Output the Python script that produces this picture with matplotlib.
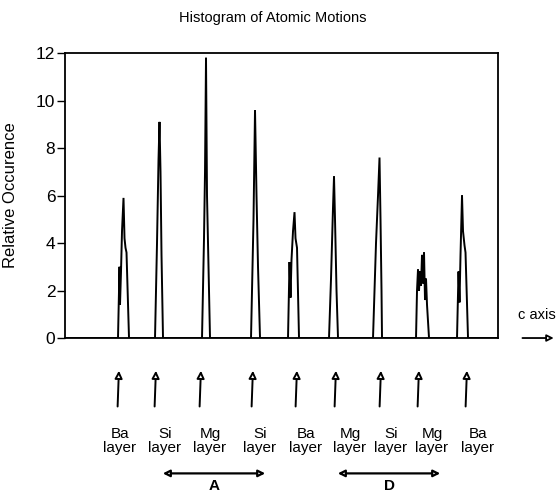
import matplotlib
matplotlib.use("Agg")
import matplotlib.pyplot as plt

plt.rcParams['font.family'] = ['Liberation Sans', 'DejaVu Sans']

# ---- data (c-axis position in arbitrary units, relative occurrence) ----
trace_x = [0, 53, 54.5, 55, 56, 57, 58.5, 59.5, 60.5, 61.5, 64,
           90, 92, 93.5, 94.5, 95.5, 96.5, 98,
           137, 139, 140, 141, 142, 143.5, 145,
           186, 188.5, 190, 191.5, 193, 195,
           223, 224.5, 225.5, 226.5, 228, 229.5, 230.5, 232, 234,
           264, 266, 268, 269, 270, 271.5, 273,
           308, 311, 313, 314.5, 315.5, 316.5, 317,
           351, 352, 353, 354, 355, 356, 357, 358, 359, 360, 361, 362, 364,
           392, 393.5, 394.5, 395.5, 397, 398, 399.5, 400.5, 403, 433]
trace_y = [0, 0, 3.0, 1.4, 2.8, 4.5, 5.9, 4.2, 3.8, 3.6, 0,
           0, 4.0, 7.5, 9.1, 7.0, 3.5, 0,
           0, 4.2, 7.0, 11.8, 6.0, 3.0, 0,
           0, 5.0, 9.6, 6.0, 3.0, 0,
           0, 3.2, 1.7, 3.3, 4.5, 5.3, 4.2, 3.8, 0,
           0, 2.5, 5.5, 6.8, 5.0, 2.0, 0,
           0, 4.0, 6.0, 7.6, 5.0, 2.0, 0,
           0, 2.0, 2.9, 2.0, 2.8, 2.2, 3.5, 2.3, 3.6, 1.6, 2.5, 1.4, 0,
           0, 2.8, 1.5, 3.5, 6.0, 4.5, 3.9, 3.6, 0, 0]

layer_names = ["Ba", "Si", "Mg", "Si", "Ba", "Mg", "Si", "Mg", "Ba"]
layer_arrow_x = [54, 91, 136, 188, 232, 271, 316, 354, 402]
layer_label_x = [55, 100, 145, 195, 241, 285, 326, 367, 413]
yticks = [0, 2, 4, 6, 8, 10, 12]
span_labels = ["A", "D"]
span_start = [95, 270]
span_end = [203, 378]

fig = plt.figure(figsize=(5.58, 4.96), dpi=100)
ax = fig.add_axes([0.1165, 0.3185, 0.776, 0.5746])

ax.plot(trace_x, trace_y, color='black', lw=1.4, solid_joinstyle='miter')
ax.set_xlim(0, 433)
ax.set_ylim(0, 12)
ax.set_yticks(yticks)
ax.set_yticklabels([str(t) for t in yticks], fontsize=12.5)
ax.set_xticks([])
ax.tick_params(axis='y', direction='out', length=5.5, width=1.0, pad=1.5)
for s in ax.spines.values():
    s.set_linewidth(1.3)

ax.set_title("Histogram of Atomic Motions", fontsize=10.5, pad=22, x=0.48)
ax.set_ylabel("Relative Occurence", fontsize=12)
ax.yaxis.set_label_coords(-0.108, 0.5)

# c axis marker
ax.text(1.045, 0.08, "c axis", transform=ax.transAxes, fontsize=10.5,
        ha='left', va='center')
ax.annotate("", xy=(1.135, 0.0), xytext=(1.05, 0.0),
            xycoords='axes fraction', textcoords='axes fraction',
            arrowprops=dict(arrowstyle='-|>', color='black', lw=1.3,
                            fc='white', mutation_scale=10),
            annotation_clip=False)

# layer arrows and labels
for name, xa, xl in zip(layer_names, layer_arrow_x, layer_label_x):
    ax.annotate("", xy=(xa, -0.105), xytext=(xa - 1.5, -0.25),
                xycoords=('data', 'axes fraction'),
                textcoords=('data', 'axes fraction'),
                arrowprops=dict(arrowstyle='-|>', color='black', lw=1.4,
                                fc='white', mutation_scale=11),
                annotation_clip=False)
    ax.text(xl, -0.36, name + "\nlayer", transform=ax.get_xaxis_transform(),
            ha='center', va='center', fontsize=11, linespacing=1.0)

for lab, x0, x1 in zip(span_labels, span_start, span_end):
    ax.annotate("", xy=(x1, -0.475), xytext=(x0, -0.475),
                xycoords=('data', 'axes fraction'),
                textcoords=('data', 'axes fraction'),
                arrowprops=dict(arrowstyle='<|-|>', color='black', lw=1.6,
                                fc='white', mutation_scale=10),
                annotation_clip=False)
    ax.text((x0 + x1) / 2, -0.52, lab, transform=ax.get_xaxis_transform(),
            ha='center', va='center', fontsize=11, fontweight='bold')

fig.savefig("out.png", dpi=100)
